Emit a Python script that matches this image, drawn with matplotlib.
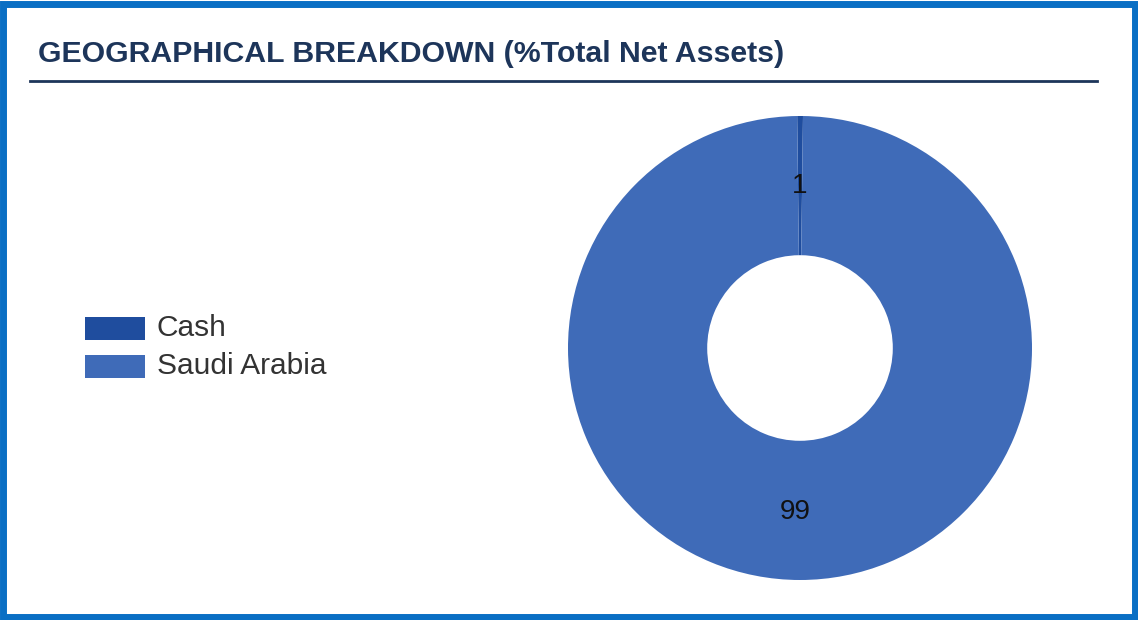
import matplotlib.pyplot as plt
from matplotlib.patches import Rectangle

# Chart data
categories = ["Cash", "Saudi Arabia"]
shares = [0.4, 99.6]          # visual share of the ring
value_labels = ["1", "99"]    # labels printed on the ring
colours = ["#1f4d9e", "#3f6bb8"]

W, H = 1138, 620
fig = plt.figure(figsize=(W / 100, H / 100), dpi=100)
fig.patch.set_facecolor("white")
plt.rcParams["font.family"] = ["Liberation Sans", "DejaVu Sans"]

# Blue frame around the whole panel
fig.patches.append(Rectangle((3 / W, 3 / H), 1 - 6 / W, 1 - 7 / H, transform=fig.transFigure,
                             fill=False, edgecolor="#0a6fc4", linewidth=5))

# Title and rule under it
fig.text(38 / W, 1 - 62 / H, "GEOGRAPHICAL BREAKDOWN (%Total Net Assets)",
         fontsize=21.8, fontweight="bold", color="#1d355a")
fig.add_artist(plt.Line2D([30 / W, 1097 / W], [1 - 81 / H, 1 - 81 / H],
                          transform=fig.transFigure, color="#1d355a", linewidth=2))

# Donut
cx, cy, r = 800, 348, 232
ax = fig.add_axes([(cx - r) / W, (H - cy - r) / H, 2 * r / W, 2 * r / H])
wedges, _ = ax.pie(shares, colors=colours, startangle=90.7, counterclock=False,
                   radius=1, wedgeprops=dict(width=0.6, linewidth=0))
ax.set_xlim(-1, 1)
ax.set_ylim(-1, 1)
ax.axis("off")

ax.text(0.0, (348 - 186) / r, value_labels[0], ha="center", va="center", fontsize=20, color="#111111")
ax.text(-0.02, (348 - 512) / r, value_labels[1], ha="center", va="center", fontsize=20, color="#111111")

# Legend
for i, (name, col) in enumerate(zip(categories, colours)):
    y_top = 317 + i * 38
    fig.patches.append(Rectangle((85 / W, 1 - (y_top + 23) / H), 60 / W, 23 / H,
                                 transform=fig.transFigure, facecolor=col, edgecolor="none"))
    fig.text(157 / W, 1 - (y_top + 11) / H, name, fontsize=21.5, color="#333333", va="center")

fig.savefig("out.png", dpi=100)
